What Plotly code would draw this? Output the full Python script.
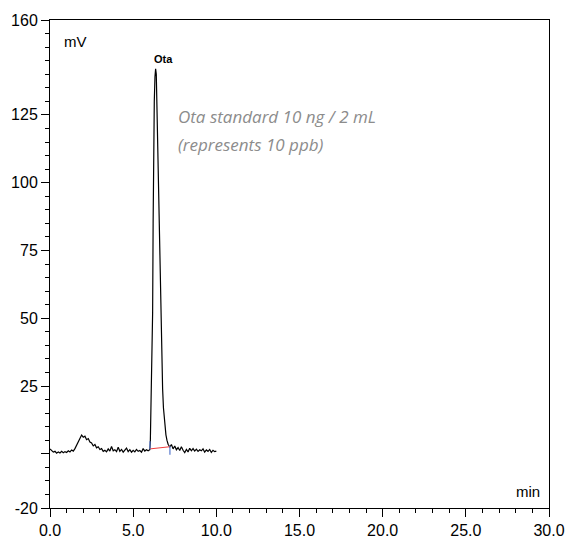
import plotly.graph_objects as go

# Chromatogram trace (time in min, signal in mV)
time_min = [
    0.0, 0.1, 0.2, 0.3, 0.4, 0.5, 0.6, 0.7, 0.8, 0.9,
    1.0, 1.1, 1.2, 1.3, 1.4, 1.5, 1.6, 1.7, 1.8, 1.9,
    2.0, 2.1, 2.2, 2.3, 2.4, 2.5, 2.6, 2.7, 2.8, 2.9,
    3.0, 3.1, 3.2, 3.3, 3.4, 3.5, 3.6, 3.7, 3.8, 3.9,
    4.0, 4.1, 4.2, 4.3, 4.4, 4.5, 4.6, 4.7, 4.8, 4.9,
    5.0, 5.1, 5.2, 5.3, 5.4, 5.5, 5.6, 5.7, 5.8, 5.9,
    6.00, 6.03, 6.08, 6.13, 6.17, 6.20, 6.23, 6.27, 6.31, 6.35,
    6.39, 6.43, 6.47, 6.52, 6.57, 6.62, 6.67, 6.72, 6.77, 6.82,
    6.87, 6.92, 6.97, 7.03, 7.10, 7.20,
    7.3, 7.4, 7.5, 7.6, 7.7, 7.8, 7.9,
    8.0, 8.1, 8.2, 8.3, 8.4, 8.5, 8.6, 8.7, 8.8, 8.9,
    9.0, 9.1, 9.2, 9.3, 9.4, 9.5, 9.6, 9.7, 9.8, 9.9, 10.0,
]
signal_mv = [
    1.8, 1.2, 0.6, 0.9, 0.2, 0.7, 0.3, 0.9, 0.4, 0.8,
    0.5, 1.1, 0.7, 1.4, 1.0, 1.9, 3.2, 4.8, 5.6, 6.9,
    6.1, 6.5, 5.2, 5.6, 4.3, 4.0, 2.9, 3.4, 2.2, 2.6,
    1.6, 1.9, 0.9, 1.3, 0.7, 1.8, 1.0, 2.7, 1.1, 1.5,
    0.8, 2.4, 0.9, 1.6, 0.6, 1.4, 2.1, 0.8, 1.5, 0.6,
    1.3, 0.7, 1.6, 0.9, 1.2, 0.6, 1.9, 1.0, 1.5, 1.1,
    1.5, 4.0, 18.0, 36.0, 52.0, 85.0, 112.0, 130.0, 139.0, 142.0,
    140.0, 128.0, 113.0, 97.0, 80.0, 63.0, 47.0, 34.0, 24.0, 17.0,
    13.0, 9.5, 7.0, 5.0, 3.5, 2.5,
    3.4, 1.8, 2.9, 1.5, 2.3, 1.2, 2.6,
    1.3, 0.4, 1.6, 0.7, 2.0, 1.1, 1.9, 1.0, 1.7, 0.9,
    1.5, 1.1, 1.8, 0.6, 1.4, 0.9, 1.6, 0.5, 1.3, 0.8, 1.0,
]

# Peak integration baseline and start/end markers
peak_baseline_t = [6.01, 7.21]
peak_baseline_v = [1.8, 2.6]
peak_start_t = [6.01, 6.01]
peak_start_v = [1.7, 4.6]
peak_end_t = [7.21, 7.21]
peak_end_v = [2.8, -0.4]

# Axis ticks
x_tickvals = [0, 5, 10, 15, 20, 25, 30]
y_tickvals = [-20, 0, 25, 50, 75, 100, 125, 160]
y_ticktext = ["-20", "", "25", "50", "75", "100", "125", "160"]

peak_label = "Ota"
peak_label_pos = (6.8, 145.5)
note_lines = ["Ota standard 10 ng / 2 mL", "(represents 10 ppb)"]

fig = go.Figure()
fig.add_trace(go.Scatter(x=time_min, y=signal_mv, mode="lines",
                         line=dict(color="black", width=1.2), showlegend=False,
                         hoverinfo="skip"))
fig.add_trace(go.Scatter(x=peak_baseline_t, y=peak_baseline_v, mode="lines",
                         line=dict(color="#f03c3c", width=1), showlegend=False))
fig.add_trace(go.Scatter(x=peak_start_t, y=peak_start_v, mode="lines",
                         line=dict(color="#5577cc", width=1.2), showlegend=False))
fig.add_trace(go.Scatter(x=peak_end_t, y=peak_end_v, mode="lines",
                         line=dict(color="#5577cc", width=1.2), showlegend=False))

fig.add_annotation(x=peak_label_pos[0], y=peak_label_pos[1], text="<b>" + peak_label + "</b>",
                   showarrow=False, font=dict(family="Liberation Sans, Arial", size=11, color="black"))
fig.add_annotation(x=7.58, y=124.3, text="<i>" + note_lines[0] + "</i>", xanchor="left",
                   showarrow=False, font=dict(family="Open Sans", size=17, color="#8c8c8c"))
fig.add_annotation(x=7.58, y=114.0, text="<i>" + note_lines[1] + "</i>", xanchor="left",
                   showarrow=False, font=dict(family="Open Sans", size=17, color="#8c8c8c"))
fig.add_annotation(xref="paper", yref="paper", x=0.024, y=0.955, text="mV",
                   xanchor="left", yanchor="middle",
                   showarrow=False, font=dict(family="Liberation Sans, Arial", size=15, color="black"))
fig.add_annotation(xref="paper", yref="paper", x=0.985, y=0.033, text="min",
                   xanchor="right", yanchor="middle",
                   showarrow=False, font=dict(family="Liberation Sans, Arial", size=15, color="black"))

axis_font = dict(family="Liberation Sans, Arial", size=16, color="black")
fig.update_xaxes(range=[0, 30], tickvals=x_tickvals, tickformat=".1f", automargin=False,
                 showgrid=False, zeroline=False, showline=True, linecolor="black", linewidth=1,
                 mirror=True, ticks="outside", ticklen=8, tickcolor="black", tickfont=axis_font,
                 minor=dict(tick0=0, dtick=1, ticks="outside", ticklen=4, tickcolor="black"))
fig.update_yaxes(range=[-20, 160], tickmode="array", tickvals=y_tickvals, ticktext=y_ticktext,
                 automargin=False,
                 showgrid=False, zeroline=False, showline=True, linecolor="black", linewidth=1,
                 mirror=True, ticks="outside", ticklen=8, tickcolor="black", tickfont=axis_font,
                 minor=dict(tick0=0, dtick=5, ticks="outside", ticklen=4, tickcolor="black"))

fig.update_layout(width=568, height=539, margin=dict(l=50, r=19, t=20, b=31),
                  plot_bgcolor="white", paper_bgcolor="white")
fig.write_html("out.html", config={"displayModeBar": False},
               post_script="document.body.style.margin='0';document.body.style.overflow='hidden';")
